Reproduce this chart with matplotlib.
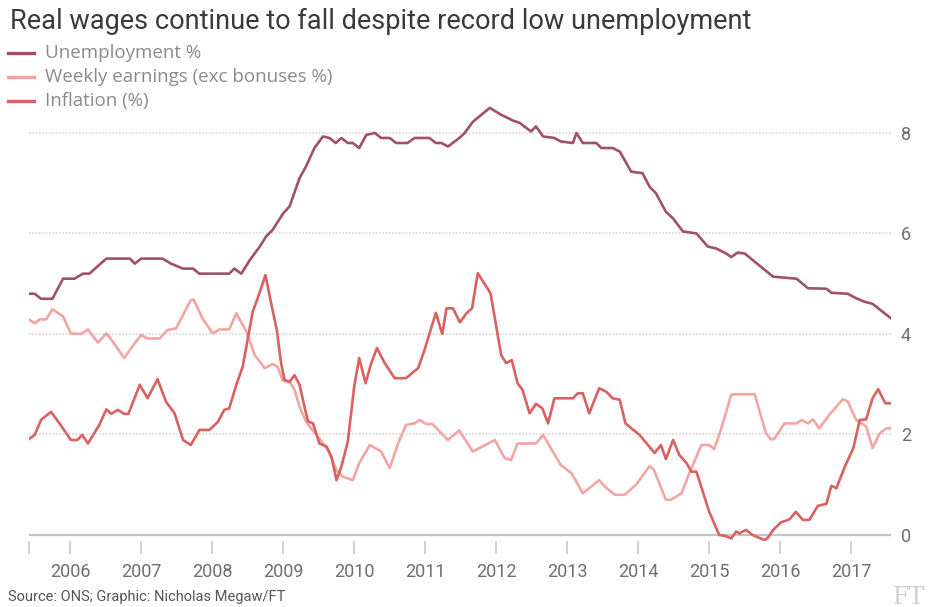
import matplotlib.pyplot as plt
from matplotlib.lines import Line2D

plt.rcParams['font.family'] = ['Roboto', 'DejaVu Sans']

# Unemployment rate (%)
unemp_t = [2005.43, 2005.50, 2005.59, 2005.75, 2005.90, 2006.06, 2006.18, 2006.27,
           2006.51, 2006.84, 2006.91, 2007.00, 2007.30, 2007.42, 2007.59, 2007.73,
           2007.82, 2008.24, 2008.31, 2008.41, 2008.53, 2008.67, 2008.76, 2008.85,
           2009.00, 2009.09, 2009.23, 2009.32, 2009.44, 2009.56, 2009.65, 2009.74,
           2009.82, 2009.91, 2009.98, 2010.07, 2010.17, 2010.29, 2010.38, 2010.50,
           2010.59, 2010.75, 2010.85, 2011.06, 2011.15, 2011.23, 2011.32, 2011.48,
           2011.55, 2011.67, 2011.91, 2012.07, 2012.16, 2012.23, 2012.33, 2012.49,
           2012.56, 2012.66, 2012.82, 2012.91, 2013.08, 2013.13, 2013.22, 2013.41,
           2013.48, 2013.64, 2013.74, 2013.90, 2014.06, 2014.16, 2014.25, 2014.39,
           2014.49, 2014.63, 2014.82, 2014.98, 2015.10, 2015.24, 2015.31, 2015.40,
           2015.50, 2015.90, 2016.23, 2016.39, 2016.65, 2016.72, 2016.95, 2017.07,
           2017.19, 2017.30, 2017.56]
unemp = [4.8, 4.8, 4.7, 4.7, 5.1, 5.1, 5.2, 5.2,
         5.5, 5.5, 5.4, 5.5, 5.5, 5.4, 5.3, 5.3,
         5.2, 5.2, 5.3, 5.2, 5.47, 5.74, 5.94, 6.07,
         6.4, 6.54, 7.1, 7.33, 7.7, 7.93, 7.9, 7.8,
         7.9, 7.8, 7.8, 7.7, 7.96, 8.0, 7.9, 7.9,
         7.8, 7.8, 7.9, 7.9, 7.8, 7.8, 7.73, 7.9,
         7.99, 8.22, 8.5, 8.36, 8.3, 8.25, 8.2, 8.03,
         8.13, 7.93, 7.9, 7.83, 7.8, 8.0, 7.8, 7.8,
         7.7, 7.7, 7.63, 7.23, 7.2, 6.93, 6.8, 6.43,
         6.3, 6.04, 6.0, 5.74, 5.7, 5.6, 5.53, 5.62,
         5.6, 5.14, 5.1, 4.91, 4.9, 4.82, 4.8, 4.71,
         4.64, 4.6, 4.31]

# Weekly earnings growth, excluding bonuses (%)
wage_t = [2005.40, 2005.50, 2005.57, 2005.66, 2005.75, 2005.90, 2006.01, 2006.15,
          2006.25, 2006.39, 2006.51, 2006.60, 2006.76, 2006.88, 2007.00, 2007.09,
          2007.26, 2007.37, 2007.49, 2007.70, 2007.74, 2007.87, 2008.01, 2008.10,
          2008.24, 2008.34, 2008.48, 2008.60, 2008.74, 2008.85, 2008.92, 2008.99,
          2009.09, 2009.16, 2009.23, 2009.32, 2009.37, 2009.51, 2009.63, 2009.75,
          2009.84, 2009.98, 2010.07, 2010.22, 2010.38, 2010.50, 2010.61, 2010.73,
          2010.85, 2010.92, 2011.01, 2011.10, 2011.32, 2011.48, 2011.67, 2011.98,
          2012.12, 2012.21, 2012.30, 2012.56, 2012.66, 2012.91, 2013.06, 2013.22,
          2013.45, 2013.54, 2013.67, 2013.81, 2013.97, 2014.16, 2014.22, 2014.39,
          2014.46, 2014.61, 2014.72, 2014.89, 2015.00, 2015.07, 2015.17, 2015.31,
          2015.38, 2015.64, 2015.80, 2015.87, 2015.92, 2016.06, 2016.23, 2016.30,
          2016.39, 2016.46, 2016.55, 2016.69, 2016.88, 2016.95, 2017.07, 2017.21,
          2017.30, 2017.40, 2017.49, 2017.56]
wage = [4.31, 4.21, 4.29, 4.29, 4.49, 4.35, 4.01, 4.0,
        4.09, 3.83, 4.01, 3.85, 3.52, 3.76, 3.98, 3.91,
        3.91, 4.08, 4.11, 4.68, 4.68, 4.29, 4.01, 4.09,
        4.09, 4.41, 4.05, 3.58, 3.32, 3.40, 3.35, 3.08,
        3.05, 2.89, 2.55, 2.26, 2.16, 1.92, 1.69, 1.29,
        1.16, 1.09, 1.43, 1.79, 1.66, 1.33, 1.79, 2.19,
        2.22, 2.29, 2.21, 2.21, 1.89, 2.08, 1.66, 1.89,
        1.53, 1.49, 1.82, 1.82, 1.99, 1.39, 1.23, 0.83,
        1.09, 0.95, 0.80, 0.80, 1.0, 1.37, 1.30, 0.70,
        0.70, 0.83, 1.23, 1.79, 1.79, 1.71, 2.12, 2.79,
        2.8, 2.8, 2.02, 1.90, 1.92, 2.22, 2.22, 2.29,
        2.22, 2.30, 2.12, 2.39, 2.70, 2.66, 2.29, 2.16,
        1.73, 2.02, 2.12, 2.12]

# CPI inflation (%)
infl_t = [2005.40, 2005.50, 2005.59, 2005.73, 2005.85, 2006.01, 2006.10, 2006.17,
          2006.25, 2006.41, 2006.51, 2006.58, 2006.67, 2006.76, 2006.82, 2006.98,
          2007.09, 2007.23, 2007.35, 2007.47, 2007.59, 2007.70, 2007.82, 2007.96,
          2008.08, 2008.17, 2008.24, 2008.34, 2008.43, 2008.57, 2008.64, 2008.75,
          2008.83, 2008.91, 2008.97, 2009.02, 2009.09, 2009.16, 2009.23, 2009.30,
          2009.35, 2009.42, 2009.51, 2009.61, 2009.68, 2009.75, 2009.82, 2009.91,
          2010.00, 2010.07, 2010.16, 2010.24, 2010.32, 2010.43, 2010.57, 2010.73,
          2010.90, 2010.99, 2011.15, 2011.24, 2011.30, 2011.39, 2011.49, 2011.58,
          2011.66, 2011.74, 2011.92, 2012.07, 2012.14, 2012.22, 2012.30, 2012.37,
          2012.47, 2012.56, 2012.65, 2012.73, 2012.82, 2013.08, 2013.15, 2013.22,
          2013.31, 2013.45, 2013.55, 2013.64, 2013.74, 2013.82, 2014.02, 2014.23,
          2014.32, 2014.39, 2014.49, 2014.58, 2014.68, 2014.75, 2014.82, 2015.00,
          2015.14, 2015.23, 2015.31, 2015.38, 2015.43, 2015.47, 2015.52, 2015.61,
          2015.69, 2015.78, 2015.83, 2015.90, 2016.01, 2016.13, 2016.22, 2016.32,
          2016.41, 2016.53, 2016.65, 2016.72, 2016.79, 2016.91, 2017.03, 2017.12,
          2017.21, 2017.30, 2017.38, 2017.48, 2017.56]
infl = [1.89, 1.99, 2.29, 2.45, 2.22, 1.89, 1.89, 1.99,
        1.82, 2.19, 2.50, 2.41, 2.49, 2.41, 2.41, 2.99,
        2.72, 3.10, 2.65, 2.42, 1.89, 1.79, 2.09, 2.09,
        2.25, 2.49, 2.52, 2.99, 3.35, 4.44, 4.71, 5.17,
        4.61, 4.08, 3.42, 3.08, 3.05, 3.18, 2.99, 2.55,
        2.26, 2.22, 1.82, 1.76, 1.56, 1.09, 1.36, 1.86,
        2.95, 3.52, 3.02, 3.42, 3.72, 3.42, 3.12, 3.12,
        3.32, 3.68, 4.42, 4.0, 4.51, 4.51, 4.23, 4.41,
        4.51, 5.21, 4.81, 3.58, 3.42, 3.48, 3.02, 2.89,
        2.42, 2.61, 2.52, 2.22, 2.72, 2.72, 2.82, 2.82,
        2.42, 2.92, 2.85, 2.72, 2.69, 2.22, 1.99, 1.63,
        1.79, 1.51, 1.89, 1.59, 1.43, 1.26, 1.26, 0.46,
        0.0, -0.02, -0.07, 0.07, 0.03, 0.07, 0.1, 0.0,
        -0.05, -0.1, -0.05, 0.1, 0.25, 0.31, 0.46, 0.30,
        0.30, 0.58, 0.62, 0.98, 0.93, 1.36, 1.73, 2.29,
        2.30, 2.72, 2.90, 2.62, 2.62]

years = list(range(2006, 2018))
y_ticks = [0, 2, 4, 6, 8]

c_unemp = '#a14f6b'
c_wage = '#f3a5a3'
c_infl = '#d9615f'
grey = '#6e6e6e'

fig = plt.figure(figsize=(9.29, 6.07), dpi=100)
ax = fig.add_axes([29 / 929, (607 - 541) / 607, 862 / 929, (541 - 102.8) / 607])

ax.plot(wage_t, wage, color=c_wage, lw=1.9, solid_joinstyle='round', zorder=3)
ax.plot(infl_t, infl, color=c_infl, lw=1.9, solid_joinstyle='round', zorder=4)
ax.plot(unemp_t, unemp, color=c_unemp, lw=1.9, solid_joinstyle='round', zorder=5)

ax.set_xlim(2005.42, 2017.56)
ax.set_ylim(-0.12, 8.6)

for v in y_ticks[1:]:
    ax.axhline(v, color='#d6d6d6', lw=1.2, ls=(0, (1, 1)), zorder=1)
ax.axhline(0, color='#c4c4c4', lw=1.6, zorder=2)

for s in ax.spines.values():
    s.set_visible(False)

ax.set_xticks([2005.42] + years)
ax.set_xticklabels([''] + [str(y) for y in years])
ax.tick_params(axis='x', length=9, width=1.4, color='#d0d0d0', pad=7,
               labelsize=13, labelcolor=grey)

ax.yaxis.tick_right()
ax.set_yticks(y_ticks)
ax.tick_params(axis='y', length=0, pad=7, labelsize=13, labelcolor=grey)

fig.text(10 / 929, 1 - 21 / 607, 'Real wages continue to fall despite record low unemployment',
         fontsize=19.5, color='#3a3a3a', va='center', ha='left')

legend_items = [('Unemployment %', c_unemp),
                ('Weekly earnings (exc bonuses %)', c_wage),
                ('Inflation (%)', c_infl)]
for i, (label, col) in enumerate(legend_items):
    yy = 1 - (53 + 24 * i) / 607
    fig.add_artist(Line2D([8 / 929, 34 / 929], [yy, yy], color=col, lw=2.4,
                          transform=fig.transFigure))
    fig.text(45 / 929, yy, label, fontsize=13.5, color='#8a8a8a', va='center', ha='left',
             family=['Open Sans', 'DejaVu Sans'])

fig.text(8 / 929, 1 - 597 / 607, 'Source: ONS; Graphic: Nicholas Megaw/FT',
         fontsize=10.5, color='#555555', va='center', ha='left')
fig.text(893 / 929, 1 - 597 / 607, 'FT', fontsize=17, color='#cfcfcf',
         family='DejaVu Serif', va='center', ha='left')

fig.savefig('out.png', dpi=100)
